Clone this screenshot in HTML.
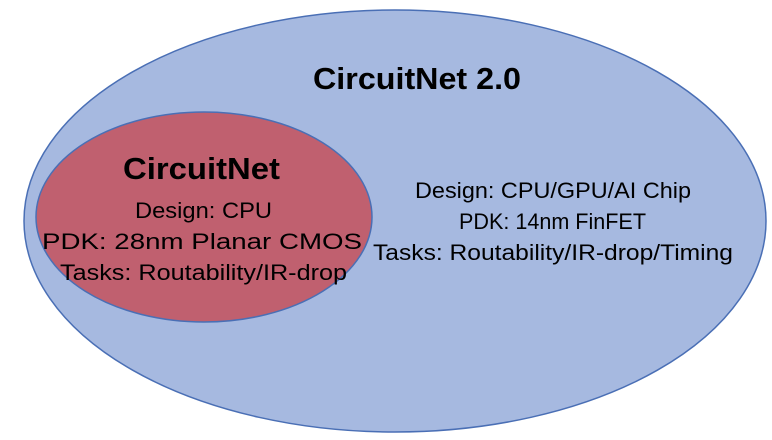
<!DOCTYPE html>
<html><head><style>body{margin:0;background:#fff}svg{display:block}text{font-family:"Liberation Sans",sans-serif}</style></head>
<body>
<svg width="772" height="440" xmlns="http://www.w3.org/2000/svg">
<ellipse cx="395" cy="221" rx="371" ry="211" fill="#a6b9e0" stroke="#4a6fb5" stroke-width="1.5"/>
<ellipse cx="204" cy="217" rx="168" ry="105" fill="#c0606f" stroke="#4a6fb5" stroke-width="1.5"/>
<text x="313" y="89" font-size="31" font-weight="bold" textLength="208" lengthAdjust="spacingAndGlyphs">CircuitNet 2.0</text>
<text x="123" y="179" font-size="31" font-weight="bold" textLength="157" lengthAdjust="spacingAndGlyphs">CircuitNet</text>
<g font-size="22">
<text x="135" y="218" textLength="137" lengthAdjust="spacingAndGlyphs">Design: CPU</text>
<text x="42" y="249" textLength="320" lengthAdjust="spacingAndGlyphs">PDK: 28nm Planar CMOS</text>
<text x="60" y="280" textLength="287" lengthAdjust="spacingAndGlyphs">Tasks: Routability/IR-drop</text>
<text x="415" y="198" textLength="276" lengthAdjust="spacingAndGlyphs">Design: CPU/GPU/AI Chip</text>
<text x="459" y="229" textLength="187" lengthAdjust="spacingAndGlyphs">PDK: 14nm FinFET</text>
<text x="373" y="260" textLength="360" lengthAdjust="spacingAndGlyphs">Tasks: Routability/IR-drop/Timing</text>
</g>
</svg>
</body></html>
